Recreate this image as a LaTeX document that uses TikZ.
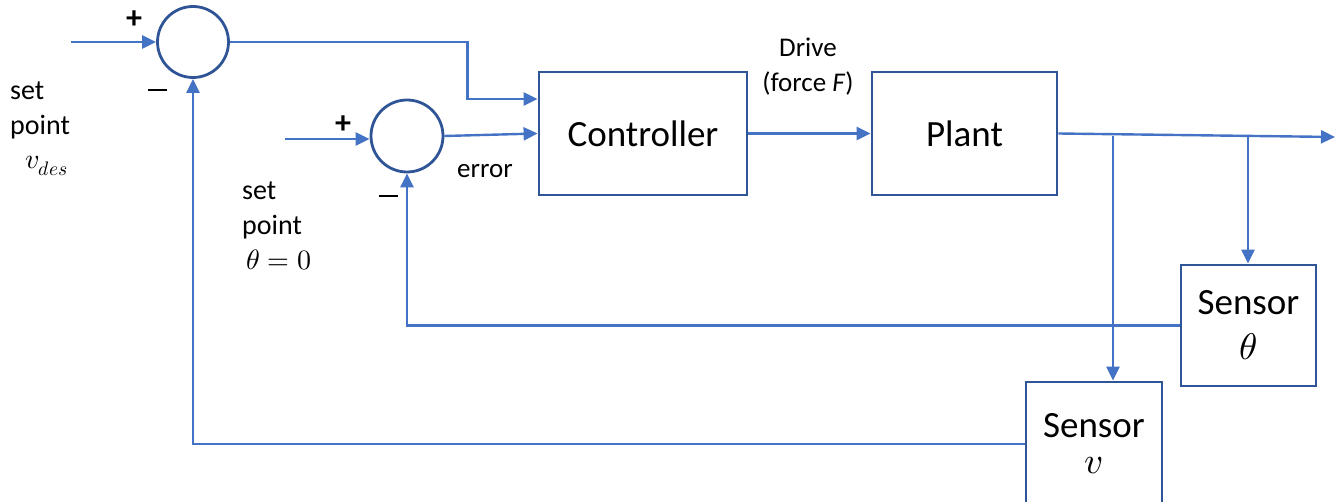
\documentclass[tikz,border=0pt]{standalone}
\usepackage{fontspec}
\usepackage{unicode-math}
\setmainfont{Carlito}
\setmathfont{Latin Modern Math}
\usetikzlibrary{arrows.meta,calc}
\definecolor{lineblue}{HTML}{4472C4}
\definecolor{boxblue}{HTML}{2F5597}
\begin{document}
\begin{tikzpicture}[x=1pt,y=-1pt,
  conn/.style={draw=lineblue, line width=2.4pt, -{Triangle[length=14pt,width=13pt]}},
  blockbox/.style={draw=boxblue, line width=2.8pt, rectangle, inner sep=0pt, font=\fontsize{37}{44}\selectfont, align=center},
  sensbox/.style={draw=boxblue, line width=2.8pt, rectangle, inner sep=0pt, align=center},
  sumnode/.style={draw=boxblue, line width=2.8pt, circle, inner sep=0pt},
  lbl/.style={font=\fontsize{28}{32}\selectfont, anchor=base west, inner sep=0pt},
  sgn/.style={font=\fontsize{32}{36}\selectfont\bfseries, inner sep=0pt},
  drv/.style={font=\fontsize{27}{32}\selectfont, anchor=base, inner sep=0pt},
]
\useasboundingbox (0,0) rectangle (1340,502);

% blocks
\node[sumnode, minimum size=71pt] (sum1) at (193,42) {};
\node[sumnode, minimum size=72pt] (sum2) at (407,136) {};
\node[blockbox, minimum width=208pt, minimum height=123pt] (ctrl) at (643,133.5) {Controller};
\node[blockbox, minimum width=185pt, minimum height=123pt] (plant) at (964.5,133.5) {Plant};
\node[sensbox, minimum width=135pt, minimum height=121pt, font=\fontsize{37}{48}\selectfont] (sensT) at (1248.5,325.5) {\raisebox{-3pt}{Sensor}\\$\theta$};
\node[sensbox, minimum width=136pt, minimum height=124pt, font=\fontsize{37}{36}\selectfont] (sensV) at (1094,444) {Sensor\\$v$};

% free ends and branch points
\coordinate (in1) at (71,42);
\coordinate (in2) at (285,139);
\coordinate (out) at (1335,137);
\coordinate (b1) at (1113,135.6);
\coordinate (b2) at (1248,136.4);

% connectors
\draw[conn] (in1) -- (sum1.west);
\draw[conn] (in2) -- (sum2.west |- in2);
\draw[conn] (sum1.east) -| ($(ctrl.west)+(-70,-34.5)$) -- ($(ctrl.west)+(0,-34.5)$);
\draw[conn] (sum2.east) -- (ctrl.west);
\draw[conn] (ctrl.east) -- (plant.west);
\draw[conn] (plant.east) -- (out);
\draw[conn] (b1) -- (b1 |- sensV.north);
\draw[conn] (b2) -- (b2 |- sensT.north);
\draw[conn] (sensT.west) -| (sum2.south);
\draw[conn] (sensV.west) -| (sum1.south);

% signs
\node[sgn] (p1) at (134,20) {+};
\node[sgn] (m1) at (157,90) {\rule{19pt}{2.6pt}};
\node[sgn] (p2) at (343,125) {+};
\node[sgn] (m2) at (388,196) {\rule{19pt}{2.6pt}};

% labels
\node[lbl] (sp1a) at (10,100) {set};
\node[lbl] (sp1b) at (10,135) {point};
\node[lbl] (sp1c) at (25,169) {$v_{des}$};
\node[lbl] (sp2a) at (242,200) {set};
\node[lbl] (sp2b) at (242,235) {point};
\node[lbl] (sp2c) at (246,270) {$\theta=0$};
\node[lbl, font=\fontsize{27}{32}\selectfont] (err) at (457,178) {error};
\node[drv] (drv1) at (808,57) {Drive};
\node[drv] (drv2) at (808,92) {(force \textit{F})};
\end{tikzpicture}
\end{document}
